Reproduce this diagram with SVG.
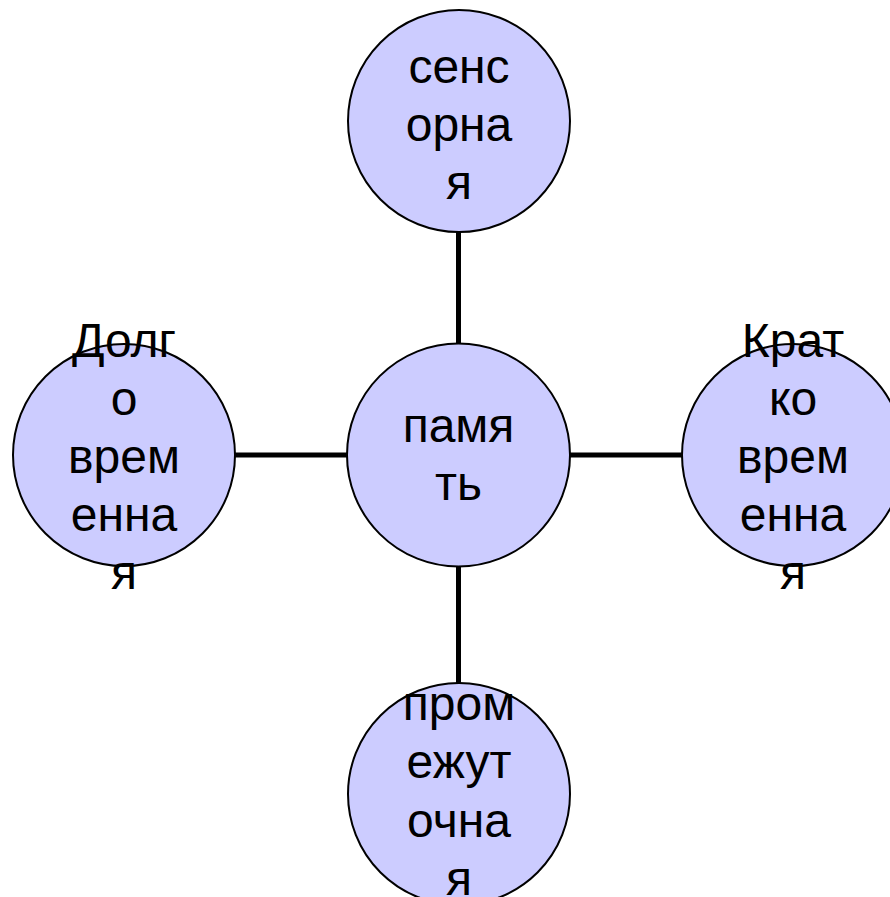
<svg xmlns="http://www.w3.org/2000/svg" width="890" height="897" viewBox="0 0 890 897">
<style>
.node circle{fill:#CCCCFF;stroke:#000;stroke-width:2}
.node text{font-family:"Liberation Sans",Arial,sans-serif;font-size:48px;fill:#000;text-anchor:middle}
.conn line{stroke:#000;stroke-width:5}
</style>
<rect width="890" height="897" fill="#fff"/>
<g id="connectors" class="conn">
<line x1="458.5" y1="230" x2="458.5" y2="344"/>
<line x1="458.5" y1="566" x2="458.5" y2="684"/>
<line x1="234" y1="455" x2="348" y2="455"/>
<line x1="569" y1="455" x2="683" y2="455"/>
</g>
<g id="node-top" class="node">
<circle cx="459" cy="121" r="111"/>
<text x="459" y="83">сенс</text>
<text x="459" y="141">орна</text>
<text x="459" y="199">я</text>
</g>
<g id="node-center" class="node">
<circle cx="458.5" cy="455" r="111.5"/>
<text x="458.5" y="442">памя</text>
<text x="458.5" y="500">ть</text>
</g>
<g id="node-left" class="node">
<circle cx="124" cy="455" r="111"/>
<text x="124" y="357">Долг</text>
<text x="124" y="415">о</text>
<text x="124" y="473">врем</text>
<text x="124" y="531">енна</text>
<text x="124" y="589">я</text>
</g>
<g id="node-right" class="node">
<circle cx="793" cy="455" r="111"/>
<text x="793" y="357">Крат</text>
<text x="793" y="415">ко</text>
<text x="793" y="473">врем</text>
<text x="793" y="531">енна</text>
<text x="793" y="589">я</text>
</g>
<g id="node-bottom" class="node">
<circle cx="459" cy="794" r="111"/>
<text x="459" y="720">пром</text>
<text x="459" y="778">ежут</text>
<text x="459" y="837">очна</text>
<text x="459" y="895">я</text>
</g>
</svg>
